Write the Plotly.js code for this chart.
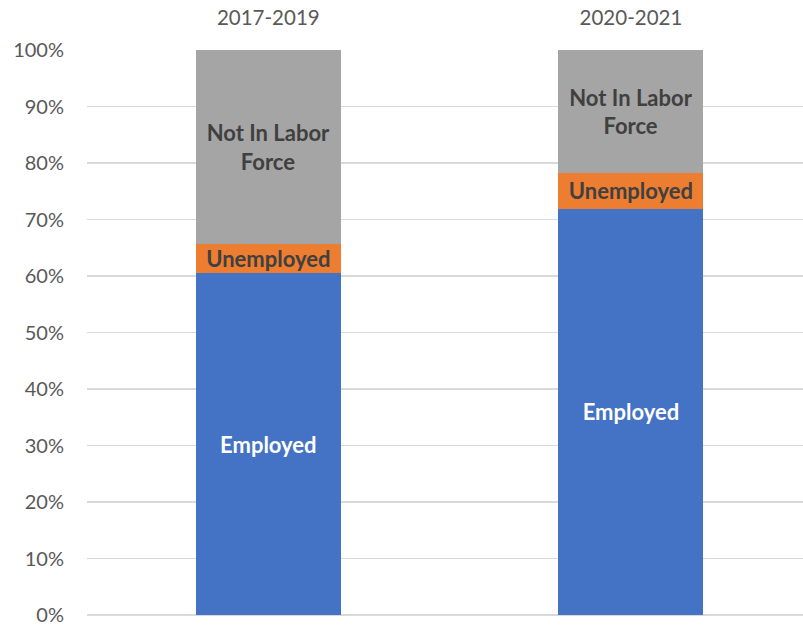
<!DOCTYPE html>
<html>
<head>
<meta charset="utf-8">
<script src="https://cdn.plot.ly/plotly-3.0.1.min.js"></script>
<style>html,body{margin:0;padding:0;background:#fff;}#chart{width:803px;height:627px;}</style>
</head>
<body>
<div id="chart"></div>
<script>
const categories = ["2017-2019", "2020-2021"];
const employed = [60.5, 71.9];
const unemployed = [5.2, 6.4];
const notInLaborForce = [34.3, 21.7];
const yTicks = [0,10,20,30,40,50,60,70,80,90,100];
const yTickLabels = yTicks.map(v => v + "%");

const font = "Lato, 'Open Sans', sans-serif";
function series(name, vals, color, txt, txtColor) {
  return {
    type: "bar", name: name, x: categories, y: vals,
    marker: {color: color, line: {width: 0}},
    text: vals.map(() => txt), textposition: "inside", insidetextanchor: "middle",
    textangle: 0, constraintext: "none",
    textfont: {family: font, size: 22, color: txtColor, weight: "bold"},
    hoverinfo: "none", width: 0.4
  };
}
const data = [
  series("Employed", employed, "#4472c4", "<b>Employed</b>", "#ffffff"),
  series("Unemployed", unemployed, "#ed7d31", "<b>Unemployed</b>", "#404040"),
  series("Not In Labor Force", notInLaborForce, "#a5a5a5", "<b>Not In Labor<br>Force</b>", "#404040")
];
const layout = {
  width: 803, height: 627, barmode: "stack", showlegend: false,
  paper_bgcolor: "#fff", plot_bgcolor: "#fff",
  margin: {l: 87, r: 0, t: 50, b: 12},
  font: {family: font, color: "#595959", size: 20},
  xaxis: {side: "top", range: [-0.5, 1.4745], showgrid: false, zeroline: false,
          showline: false, ticks: "", tickfont: {size: 20.5, color: "#595959"}, ticklabelstandoff: 20},
  yaxis: {range: [0, 100], tickvals: yTicks, ticktext: yTickLabels, showgrid: true,
          gridcolor: "#d9d9d9", gridwidth: 1.5, zeroline: true, zerolinecolor: "#d9d9d9", zerolinewidth: 1.5,
          showline: false, ticks: "", tickfont: {size: 20, color: "#595959"}, ticklabelstandoff: 22,
          ticklabeloverflow: "allow"}
};
Plotly.newPlot("chart", data, layout, {displayModeBar: false, staticPlot: true});
</script>
</body>
</html>
